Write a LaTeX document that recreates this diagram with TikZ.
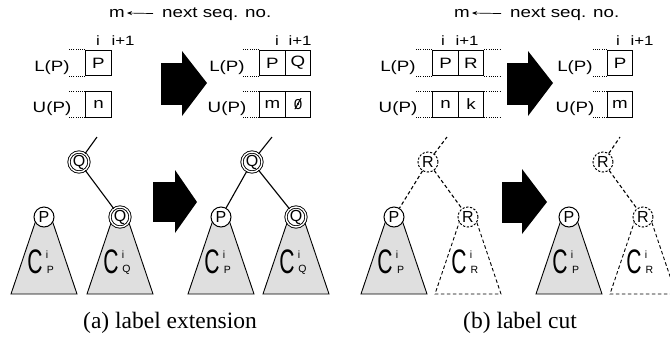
\documentclass[tikz,border=0pt]{standalone}
\usepackage{graphicx}
\usepackage{fontspec}
\setmainfont{Liberation Serif}
\newfontfamily\figsf[FakeStretch=1.25]{Liberation Sans}
\newfontfamily\figplain{Liberation Sans}
\newfontfamily\figmono{Liberation Mono}
\usetikzlibrary{arrows.meta}
\tikzset{
  txt/.style={font=\figsf\fontsize{15}{17}\selectfont, inner sep=0pt, anchor=base},
  idx/.style={font=\figsf\fontsize{13.5}{15}\selectfont, inner sep=0pt, anchor=base},
  cell/.style={draw, line width=0.9pt, minimum width=25.5pt, minimum height=25.5pt, inner sep=0pt, font=\figsf\fontsize{15}{17}\selectfont},
  dotline/.style={line width=0.9pt, dash pattern=on 0.9pt off 1.3pt},
  bigarrow/.style={fill=black},
  treeline/.style={line width=1.1pt},
  dline/.style={line width=1.1pt, dash pattern=on 3.5pt off 2.5pt},
  pnode/.style={circle, draw, line width=1pt, fill=white, minimum size=20pt, inner sep=0pt, font=\figplain\fontsize{16}{16}\selectfont},
  qnode/.style={circle, draw, line width=0.9pt, double, double distance=1.4pt, fill=white, minimum size=20pt, inner sep=0pt, font=\figplain\fontsize{16}{16}\selectfont},
  rnode/.style={circle, draw, line width=1pt, dash pattern=on 2.2pt off 1.6pt, fill=white, minimum size=20pt, inner sep=0pt, font=\figplain\fontsize{16}{16}\selectfont},
  gtree/.style={draw, fill=gray!25, line width=0.9pt},
  dtree/.style={line width=0.9pt, dash pattern=on 3.5pt off 2.5pt},
  clabel/.style={font=\figplain\fontsize{34}{34}\selectfont, inner sep=0pt},
  sublabel/.style={font=\figplain\fontsize{10.5}{11}\selectfont, inner sep=0pt},
  captext/.style={font=\fontsize{23.5}{26}\selectfont, inner sep=0pt},
}
\newcommand{\slzero}{{\figmono\ooalign{0\cr/}}}
\newcommand{\tallC}{\scalebox{0.62}[1]{C}}
\begin{document}
\begin{tikzpicture}[x=1pt,y=-1pt]
\useasboundingbox (0,0) rectangle (670,341);
\begin{scope}
\clip (0,0) rectangle (670,341);

% ---------- top: next seq. no.
\node[txt] (ma) at (117,17) {m};
\node[txt, anchor=base west] (nxa) at (162,17) {next seq. no.};
\draw[{Stealth[length=5pt,width=4pt]}-, line width=0.7pt, shorten <=2pt, shorten >=9pt] (ma.east) -- (nxa.west);
\node[txt] (mb) at (462,17) {m};
\node[txt, anchor=base west] (nxb) at (510,17) {next seq. no.};
\draw[{Stealth[length=5pt,width=4pt]}-, line width=0.7pt, shorten <=2pt, shorten >=9pt] (mb.east) -- (nxb.west);

% ---------- panel a, table before
\node[idx] (ia1) at (98,45) {i};
\node[idx] (ja1) at (123,45) {i+1};
\node[txt] (la1) at (52,71) {L(P)};
\node[txt] (ua1) at (52,112) {U(P)};
\node[cell] (a1l) at (98.5,63) {P};
\node[cell] (a1u) at (98.5,104.5) {n};
\draw[dotline] (a1l.north west) -- ++(-17,0);
\draw[dotline] (a1l.south west) -- ++(-17,0);
\draw[dotline] (a1u.north west) -- ++(-17,0);
\draw[dotline] (a1u.south west) -- ++(-17,0);

% big arrow
\fill[bigarrow] (161,63) rectangle (182,105);
\fill[bigarrow] (182,51) -- (207,83) -- (182,116) -- cycle;

% ---------- panel a, table after
\node[idx] (ia2) at (277,45) {i};
\node[idx] (ja2) at (300,45) {i+1};
\node[txt] (la2) at (227,71) {L(P)};
\node[txt] (ua2) at (227,112) {U(P)};
\node[cell] (a2l1) at (272.5,63) {P};
\node[cell] (a2l2) at (298,63) {Q};
\node[cell] (a2u1) at (272.5,104.5) {m};
\node[cell] (a2u2) at (298,104.5) {\slzero};
\draw[dotline] (a2l1.north west) -- ++(-16,0);
\draw[dotline] (a2l1.south west) -- ++(-16,0);
\draw[dotline] (a2u1.north west) -- ++(-16,0);
\draw[dotline] (a2u1.south west) -- ++(-16,0);

% ---------- panel b, table before
\node[idx] (ib1) at (443,45) {i};
\node[idx] (jb1) at (467,45) {i+1};
\node[txt] (lb1) at (398,71) {L(P)};
\node[txt] (ub1) at (398,112) {U(P)};
\node[cell] (b1l1) at (445.5,63) {P};
\node[cell] (b1l2) at (471,63) {R};
\node[cell] (b1u1) at (445.5,104.5) {n};
\node[cell] (b1u2) at (471,104.5) {k};
\draw[dotline] (b1l1.north west) -- ++(-17,0);
\draw[dotline] (b1l1.south west) -- ++(-17,0);
\draw[dotline] (b1u1.north west) -- ++(-17,0);
\draw[dotline] (b1u1.south west) -- ++(-17,0);
\draw[dotline] (b1l2.north east) -- ++(16,0);
\draw[dotline] (b1l2.south east) -- ++(16,0);
\draw[dotline] (b1u2.north east) -- ++(16,0);
\draw[dotline] (b1u2.south east) -- ++(16,0);

\fill[bigarrow] (507,63) rectangle (528,105);
\fill[bigarrow] (528,51) -- (553,83) -- (528,116) -- cycle;

% ---------- panel b, table after
\node[idx] (ib2) at (618,45) {i};
\node[idx] (jb2) at (642,45) {i+1};
\node[txt] (lb2) at (575,71) {L(P)};
\node[txt] (ub2) at (575,112) {U(P)};
\node[cell] (b2l) at (620,63) {P};
\node[cell] (b2u) at (620,104.5) {m};
\draw[dotline] (b2l.north west) -- ++(-15,0);
\draw[dotline] (b2l.south west) -- ++(-15,0);
\draw[dotline] (b2u.north west) -- ++(-15,0);
\draw[dotline] (b2u.south west) -- ++(-15,0);

% ---------- trees: coordinates
\coordinate (tA1P) at (44,217);
\coordinate (tA1Q) at (120,217);
\coordinate (tA2P) at (221,217);
\coordinate (tA2Q) at (296,217);
\coordinate (tB1P) at (394,217);
\coordinate (tB1R) at (468,217);
\coordinate (tB2P) at (569,217);
\coordinate (tB2R) at (643,217);

% trapezoids
\foreach \c in {tA1P,tA1Q,tA2P,tA2Q,tB1P,tB2P}{
  \filldraw[gtree] ([shift={(-8,3)}]\c) -- ([shift={(-33,77)}]\c) -- ([shift={(33,77)}]\c) -- ([shift={(8,3)}]\c);
}
\foreach \c in {tB1R,tB2R}{
  \draw[dtree] ([shift={(-8,3)}]\c) -- ([shift={(-33,77)}]\c) -- ([shift={(33,77)}]\c) -- ([shift={(8,3)}]\c);
}

% C labels
\foreach \c/\s in {tA1P/P,tA1Q/Q,tA2P/P,tA2Q/Q,tB1P/P,tB1R/R,tB2P/P,tB2R/R}{
  \node[clabel] (C\c) at ([shift={(-9,45)}]\c) {\tallC};
  \node[sublabel] (S\c) at ([shift={(3,38)}]\c) {i};
  \node[sublabel] (B\c) at ([shift={(6.5,53)}]\c) {\s};
}

% tree lines panel a
\coordinate (topA1) at (97,137);
\coordinate (topA2) at (272,137);
\node[qnode] (QtA1) at (79,162) {Q};
\node[pnode] (PA1) at (tA1P) {P};
\node[qnode] (QA1) at (tA1Q) {Q};
\draw[treeline] (QtA1) -- (topA1);
\draw[treeline] (QtA1) -- (QA1);

\fill[bigarrow] (153,182) rectangle (175,222);
\fill[bigarrow] (175,170) -- (197,202) -- (175,233) -- cycle;

\node[qnode] (QtA2) at (252,162) {Q};
\node[pnode] (PA2) at (tA2P) {P};
\node[qnode] (QA2) at (tA2Q) {Q};
\draw[treeline] (QtA2) -- (topA2);
\draw[treeline] (QtA2) -- (PA2);
\draw[treeline] (QtA2) -- (QA2);

% tree lines panel b
\coordinate (topB1) at (447,137);
\coordinate (topB2) at (620,137);
\node[rnode] (RtB1) at (428,162) {R};
\node[pnode] (PB1) at (tB1P) {P};
\node[rnode] (RB1) at (tB1R) {R};
\draw[dline] (RtB1) -- (topB1);
\draw[dline] (RtB1) -- (PB1);
\draw[dline] (RtB1) -- (RB1);

\fill[bigarrow] (502,182) rectangle (522,223);
\fill[bigarrow] (522,169) -- (547,202) -- (522,234) -- cycle;

\node[rnode] (RtB2) at (603,162) {R};
\node[pnode] (PB2) at (tB2P) {P};
\node[rnode] (RB2) at (tB2R) {R};
\draw[dline] (RtB2) -- (topB2);
\draw[dline] (RtB2) -- (RB2);

% captions
\node[captext] (capa) at (170,323) {(a) label extension};
\node[captext] (capb) at (520,323) {(b) label cut};
\end{scope}
\end{tikzpicture}
\end{document}
